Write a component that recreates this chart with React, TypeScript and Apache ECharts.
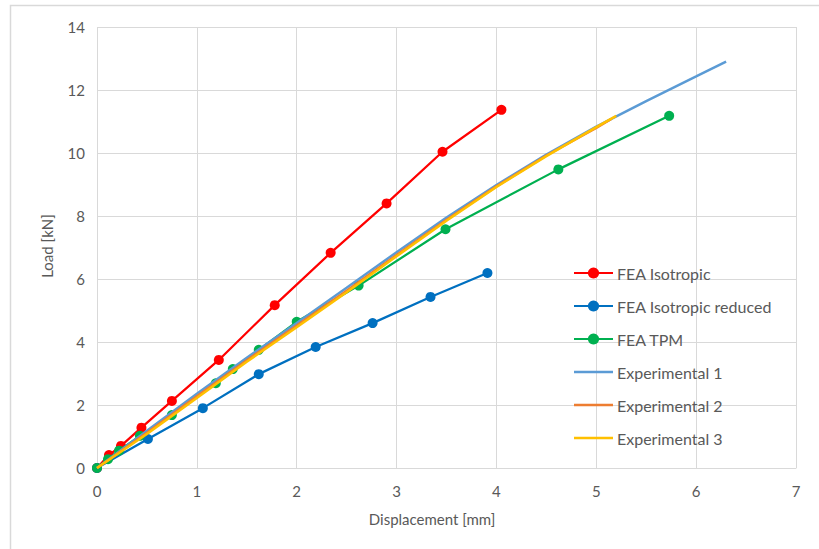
import React, { useEffect, useRef } from "react";
import * as echarts from "echarts";

const xTicks = [0, 1, 2, 3, 4, 5, 6, 7];
const yTicks = [0, 2, 4, 6, 8, 10, 12, 14];

const isoX = [0, 0.12, 0.24, 0.445, 0.75, 1.22, 1.78, 2.34, 2.9, 3.46, 4.05];
const isoY = [0, 0.41, 0.7, 1.28, 2.13, 3.43, 5.17, 6.83, 8.4, 10.04, 11.37];

const isoRedX = [0, 0.51, 1.06, 1.62, 2.19, 2.76, 3.34, 3.91];
const isoRedY = [0, 0.92, 1.9, 2.98, 3.84, 4.6, 5.43, 6.19];

const tpmX = [0, 0.11, 0.22, 0.43, 0.75, 1.19, 1.36, 1.62, 2.0, 2.62, 3.49, 4.62, 5.73];
const tpmY = [0, 0.28, 0.55, 1.02, 1.68, 2.69, 3.14, 3.75, 4.64, 5.79, 7.58, 9.48, 11.18];

const exp1X = [0, 0.5, 1.0, 1.5, 2.0, 2.5, 3.0, 3.5, 4.0, 4.5, 5.0, 5.5, 6.0, 6.3];
const exp1Y = [0, 1.18, 2.36, 3.5, 4.6, 5.72, 6.85, 7.95, 8.98, 9.95, 10.84, 11.65, 12.43, 12.9];

const exp2X = [0, 0.5, 1.0, 1.5, 2.0, 2.5, 3.0, 3.5, 4.0, 4.5, 5.0, 5.15];
const exp2Y = [0, 1.12, 2.28, 3.42, 4.52, 5.63, 6.76, 7.88, 8.94, 9.92, 10.8, 11.08];

const exp3X = [0, 0.5, 1.0, 1.5, 2.0, 2.5, 3.0, 3.5, 4.0, 4.5, 5.0, 5.2];
const exp3Y = [0, 1.08, 2.22, 3.37, 4.47, 5.58, 6.72, 7.85, 8.92, 9.9, 10.82, 11.18];

const names = [
  "FEA Isotropic",
  "FEA Isotropic reduced",
  "FEA TPM",
  "Experimental 1",
  "Experimental 2",
  "Experimental 3",
];
const colors = ["#FF0000", "#0070C0", "#00B050", "#5B9BD5", "#ED7D31", "#FFC000"];

const zip = (xs: number[], ys: number[]) => xs.map((x, i) => [x, ys[i]]);

const FONT = "Lato, 'Open Sans', sans-serif";
const TXT = "#595959";

export default function App() {
  const ref = useRef<HTMLDivElement>(null);
  useEffect(() => {
    document.body.style.margin = "0";
    if (!ref.current) return;
    const chart = echarts.init(ref.current, undefined, { renderer: "svg" });
    const data = [
      zip(isoX, isoY),
      zip(isoRedX, isoRedY),
      zip(tpmX, tpmY),
      zip(exp1X, exp1Y),
      zip(exp2X, exp2Y),
      zip(exp3X, exp3Y),
    ];
    const series = names.map((n, i) => {
      const fea = i < 3;
      return {
        name: n,
        type: "line",
        data: data[i],
        symbol: fea ? "circle" : "none",
        symbolSize: 10,
        showSymbol: fea,
        lineStyle: { color: colors[i], width: fea ? 2.25 : 2.5 },
        itemStyle: { color: colors[i] },
        z: 2 + i,
      };
    });
    chart.setOption({
      animation: false,
      backgroundColor: "#ffffff",
      textStyle: { fontFamily: FONT },
      grid: { left: 97, right: 23, top: 27, bottom: 81, containLabel: false },
      xAxis: {
        type: "value",
        min: 0,
        max: 7,
        interval: 1,
        axisLine: { show: true, lineStyle: { color: "#D9D9D9", width: 1 } },
        axisTick: { show: false },
        splitLine: { show: true, lineStyle: { color: "#D9D9D9", width: 1 } },
        axisLabel: {
          color: TXT,
          fontSize: 15,
          fontFamily: FONT,
          margin: 15,
          formatter: (v: number) => (xTicks.includes(v) ? String(v) : ""),
        },
      },
      yAxis: {
        type: "value",
        min: 0,
        max: 14,
        interval: 2,
        axisLine: { show: false },
        axisTick: { show: false },
        splitLine: { show: true, lineStyle: { color: "#D9D9D9", width: 1 } },
        axisLabel: {
          color: TXT,
          fontSize: 15,
          fontFamily: FONT,
          margin: 12,
          formatter: (v: number) => (yTicks.includes(v) ? String(v) : ""),
        },
      },
      legend: {
        orient: "vertical",
        left: 573,
        top: 265,
        padding: 0,
        itemWidth: 39,
        itemHeight: 14,
        itemGap: 17,
        data: names.map((n, i) =>
          i < 3 ? { name: n } : { name: n, icon: "path://M0,0L39,0L39,2.5L0,2.5Z" }
        ),
        textStyle: {
          color: TXT,
          fontSize: 16,
          fontFamily: FONT,
          padding: [0, 0, 0, -1],
        },
      },
      graphic: [
        {
          type: "rect",
          shape: { x: 10.5, y: 5.5, width: 1000, height: 1000 },
          style: { fill: "none", stroke: "#D9D9D9", lineWidth: 1.5 },
          silent: true,
        },
        {
          type: "text",
          x: 432,
          y: 519,
          style: {
            text: "Displacement [mm]",
            fill: TXT,
            font: `15px ${FONT}`,
            textAlign: "center",
            textVerticalAlign: "middle",
          },
        },
        {
          type: "text",
          x: 47,
          y: 246,
          rotation: Math.PI / 2,
          style: {
            text: "Load [kN]",
            fill: TXT,
            font: `15px ${FONT}`,
            textAlign: "center",
            textVerticalAlign: "middle",
          },
        },
      ],
      series,
    });
    return () => chart.dispose();
  }, []);
  return <div ref={ref} style={{ width: 819, height: 549 }} />;
}
